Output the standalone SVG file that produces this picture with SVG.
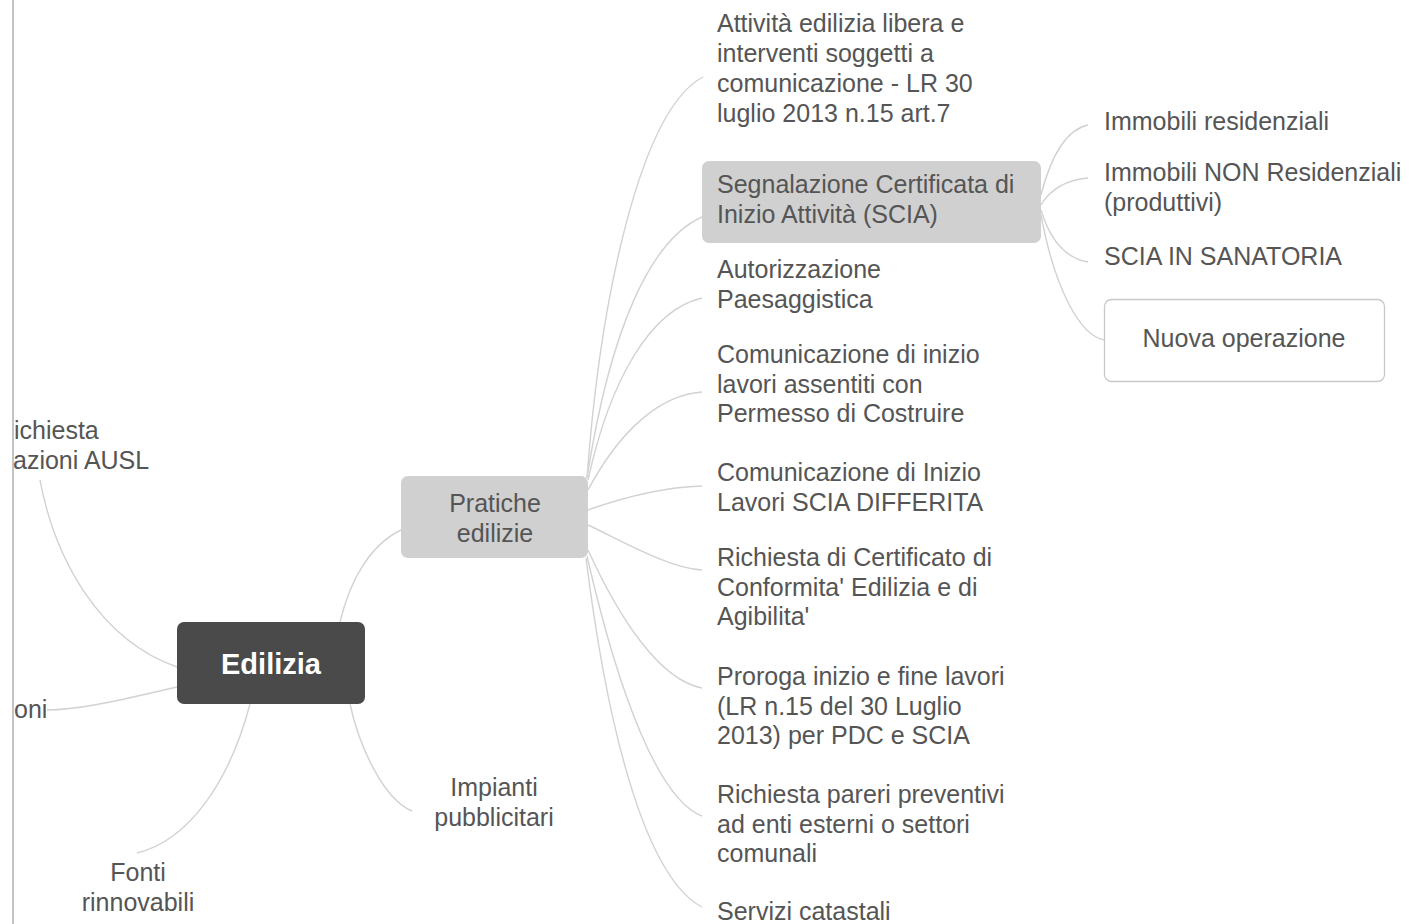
<svg xmlns="http://www.w3.org/2000/svg" width="1412" height="924" viewBox="0 0 1412 924">
<style>
text{font-family:"Liberation Sans",Arial,Helvetica,sans-serif;font-size:25px;fill:#555}
.c{text-anchor:middle}
.root{font-size:29px;font-weight:bold;fill:#fff}
#connectors path{fill:none;stroke:#d2d2d2;stroke-width:1.4}
</style>
<rect width="1412" height="924" fill="#fff"/>
<line x1="13" y1="0" x2="13" y2="924" stroke="#c4c4c4" stroke-width="2"/>
<g id="connectors">
<path d="M340,622 C350,580 370,545 401,530"/>
<path d="M350,704 C360,750 385,800 412,811"/>
<path d="M177,667 C100,640 55,560 40,480"/>
<path d="M177,687 C120,700 80,710 47,710"/>
<path d="M250,704 C230,780 190,840 137,853"/>
<path d="M587,478 C600,300 640,110 703,77"/>
<path d="M587,478 C610,330 650,240 702,217"/>
<path d="M588,480 C610,380 650,310 702,298"/>
<path d="M588,490 C620,430 660,395 702,392"/>
<path d="M588,510 C630,495 670,487 702,486"/>
<path d="M588,525 C630,545 670,568 702,570"/>
<path d="M588,550 C620,620 660,680 702,688"/>
<path d="M587,556 C620,700 660,800 702,816"/>
<path d="M586,558 C610,750 650,880 702,907"/>
<path d="M1041,195 C1050,160 1065,130 1088,125"/>
<path d="M1041,205 C1050,190 1065,180 1088,178"/>
<path d="M1041,210 C1050,240 1065,258 1088,262"/>
<path d="M1041,215 C1055,290 1080,335 1104,340"/>
</g>
<g id="edilizia">
<rect x="177" y="622" width="188" height="82" rx="7" fill="#4a4a4a"/>
<text class="c root" x="271" y="674">Edilizia</text>
</g>
<g id="pratiche">
<rect x="401" y="476" width="187" height="82" rx="7" fill="#d0d0d0"/>
<text class="c" x="495" y="512">Pratiche</text>
<text class="c" x="495" y="542">edilizie</text>
</g>
<g id="impianti">
<text class="c" x="494" y="796">Impianti</text>
<text class="c" x="494" y="826">pubblicitari</text>
</g>
<g id="ausl">
<text x="14" y="439">ichiesta</text>
<text x="13" y="469">azioni AUSL</text>
</g>
<g id="oni">
<text x="14" y="718">oni</text>
</g>
<g id="fonti">
<text class="c" x="138" y="881">Fonti</text>
<text class="c" x="138" y="911">rinnovabili</text>
</g>
<g id="attivita">
<text x="717" y="32">Attività edilizia libera e</text>
<text x="717" y="62">interventi soggetti a</text>
<text x="717" y="92">comunicazione - LR 30</text>
<text x="717" y="122">luglio 2013 n.15 art.7</text>
</g>
<g id="scia">
<rect x="702" y="161" width="339" height="82" rx="7" fill="#d0d0d0"/>
<text x="717" y="193">Segnalazione Certificata di</text>
<text x="717" y="223">Inizio Attività (SCIA)</text>
</g>
<g id="autorizzazione">
<text x="717" y="278">Autorizzazione</text>
<text x="717" y="308">Paesaggistica</text>
</g>
<g id="comunicazione1">
<text x="717" y="363">Comunicazione di inizio</text>
<text x="717" y="393">lavori assentiti con</text>
<text x="717" y="422">Permesso di Costruire</text>
</g>
<g id="comunicazione2">
<text x="717" y="481">Comunicazione di Inizio</text>
<text x="717" y="511">Lavori SCIA DIFFERITA</text>
</g>
<g id="certificato">
<text x="717" y="566">Richiesta di Certificato di</text>
<text x="717" y="596">Conformita' Edilizia e di</text>
<text x="717" y="625">Agibilita'</text>
</g>
<g id="proroga">
<text x="717" y="685">Proroga inizio e fine lavori</text>
<text x="717" y="715">(LR n.15 del 30 Luglio</text>
<text x="717" y="744">2013) per PDC e SCIA</text>
</g>
<g id="pareri">
<text x="717" y="803">Richiesta pareri preventivi</text>
<text x="717" y="833">ad enti esterni o settori</text>
<text x="717" y="862">comunali</text>
</g>
<g id="catastali">
<text x="717" y="920">Servizi catastali</text>
</g>
<g id="residenziali">
<text x="1104" y="130">Immobili residenziali</text>
</g>
<g id="nonresidenziali">
<text x="1104" y="181">Immobili NON Residenziali</text>
<text x="1104" y="211">(produttivi)</text>
</g>
<g id="sanatoria">
<text x="1104" y="265">SCIA IN SANATORIA</text>
</g>
<g id="nuova">
<rect x="1104.5" y="299.5" width="280" height="82" rx="7" fill="#fff" stroke="#c8c8c8" stroke-width="1.3"/>
<text class="c" x="1244" y="347">Nuova operazione</text>
</g>
</svg>
